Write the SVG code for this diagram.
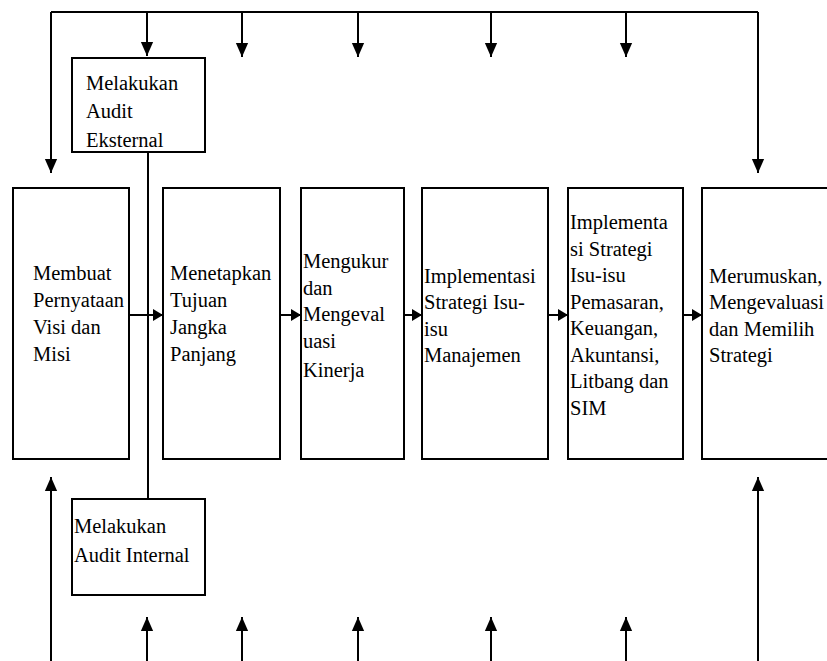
<svg xmlns="http://www.w3.org/2000/svg" width="827" height="661" viewBox="0 0 827 661">
<style>
.box{fill:#fff;stroke:#000;stroke-width:2}
.ln{fill:none;stroke:#000;stroke-width:2}
.t{font-family:'Liberation Serif','Times New Roman','DejaVu Serif',serif;font-size:20.5px;fill:#000}
</style>
<defs>
<marker id="ah" markerUnits="userSpaceOnUse" markerWidth="14" markerHeight="16" viewBox="0 0 16 14" refX="16" refY="7" orient="auto">
<path d="M0,0 L16,7 L0,14 Z" fill="#000"/>
</marker>
<marker id="as" markerUnits="userSpaceOnUse" markerWidth="10" markerHeight="12" viewBox="0 0 10 12" refX="10" refY="6" orient="auto">
<path d="M0,0 L10,6 L0,12 Z" fill="#000"/>
</marker>
</defs>
<rect width="827" height="661" fill="#fff"/>
<g id="connectors">
<path class="ln" d="M51,12 H758"/>
<path class="ln" d="M51,12 V173" marker-end="url(#ah)"/>
<path class="ln" d="M758,12 V173" marker-end="url(#ah)"/>
<path class="ln" d="M147,12 V56" marker-end="url(#ah)"/>
<path class="ln" d="M242,12 V57" marker-end="url(#ah)"/>
<path class="ln" d="M358,12 V57" marker-end="url(#ah)"/>
<path class="ln" d="M491,12 V57" marker-end="url(#ah)"/>
<path class="ln" d="M626,12 V57" marker-end="url(#ah)"/>
<path class="ln" d="M148,152 V499"/>
<path class="ln" d="M129,315 H163" marker-end="url(#as)"/>
<path class="ln" d="M280,315 H301" marker-end="url(#as)"/>
<path class="ln" d="M404,315 H422" marker-end="url(#as)"/>
<path class="ln" d="M548,315 H568" marker-end="url(#as)"/>
<path class="ln" d="M683,315 H702" marker-end="url(#as)"/>
<path class="ln" d="M51,661 V477" marker-end="url(#ah)"/>
<path class="ln" d="M758,661 V477" marker-end="url(#ah)"/>
<path class="ln" d="M147,661 V617" marker-end="url(#ah)"/>
<path class="ln" d="M242,661 V617" marker-end="url(#ah)"/>
<path class="ln" d="M358,661 V617" marker-end="url(#ah)"/>
<path class="ln" d="M491,661 V617" marker-end="url(#ah)"/>
<path class="ln" d="M626,661 V617" marker-end="url(#ah)"/>
</g>
<g id="audit-eksternal">
<rect class="box" x="72" y="58" width="133" height="94"/>
<text class="t" x="86" y="90">Melakukan</text>
<text class="t" x="86" y="118">Audit</text>
<text class="t" x="86" y="147">Eksternal</text>
</g>
<g id="audit-internal">
<rect class="box" x="72" y="499" width="133" height="96"/>
<text class="t" x="74" y="533">Melakukan</text>
<text class="t" x="74" y="562">Audit Internal</text>
</g>
<g id="visi-misi">
<rect class="box" x="13" y="188" width="116" height="271"/>
<text class="t" x="33" y="280">Membuat</text>
<text class="t" x="33" y="307">Pernyataan</text>
<text class="t" x="33" y="334">Visi dan</text>
<text class="t" x="33" y="361">Misi</text>
</g>
<g id="tujuan">
<rect class="box" x="163" y="188" width="117" height="271"/>
<text class="t" x="170" y="280">Menetapkan</text>
<text class="t" x="170" y="307">Tujuan</text>
<text class="t" x="170" y="334">Jangka</text>
<text class="t" x="170" y="361">Panjang</text>
</g>
<g id="kinerja">
<rect class="box" x="301" y="188" width="103" height="271"/>
<text class="t" x="303" y="268">Mengukur</text>
<text class="t" x="303" y="295">dan</text>
<text class="t" x="303" y="321">Mengeval</text>
<text class="t" x="303" y="348">uasi</text>
<text class="t" x="303" y="377">Kinerja</text>
</g>
<g id="manajemen">
<rect class="box" x="422" y="188" width="126" height="271"/>
<text class="t" x="424" y="283">Implementasi</text>
<text class="t" x="424" y="309">Strategi Isu-</text>
<text class="t" x="424" y="336">isu</text>
<text class="t" x="424" y="362">Manajemen</text>
</g>
<g id="pemasaran">
<rect class="box" x="568" y="188" width="115" height="271"/>
<text class="t" x="570" y="229">Implementa</text>
<text class="t" x="570" y="256">si Strategi</text>
<text class="t" x="570" y="282">Isu-isu</text>
<text class="t" x="570" y="309">Pemasaran,</text>
<text class="t" x="570" y="335">Keuangan,</text>
<text class="t" x="570" y="362">Akuntansi,</text>
<text class="t" x="570" y="388">Litbang dan</text>
<text class="t" x="570" y="415">SIM</text>
</g>
<g id="strategi">
<rect class="box" x="702" y="188" width="140" height="271"/>
<text class="t" x="709" y="283">Merumuskan,</text>
<text class="t" x="709" y="309">Mengevaluasi</text>
<text class="t" x="709" y="336">dan Memilih</text>
<text class="t" x="709" y="362">Strategi</text>
</g>
</svg>
